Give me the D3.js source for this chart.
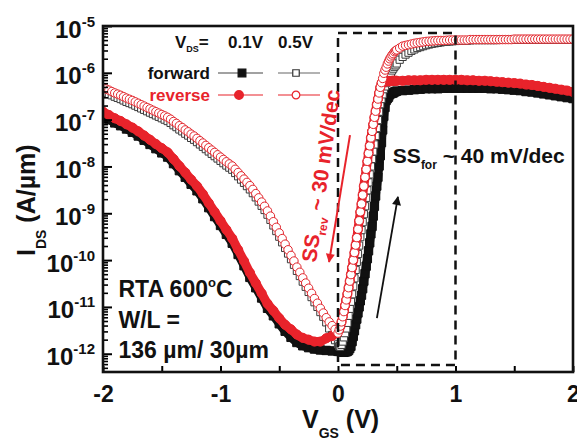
<!DOCTYPE html>
<html><head><meta charset="utf-8">
<script src="https://cdn.jsdelivr.net/npm/d3@7/dist/d3.min.js"></script>
<style>
body{margin:0;background:#fff}
text{font-family:"Liberation Sans",Arial,Helvetica,sans-serif;font-weight:bold}
</style>
</head><body>
<svg id="chart" width="577" height="441"></svg>
<script>
// ---- Data ----
// Gate-voltage points for the V_DS = 0.1 V curves (V)
const vgs = [-2,-1.95,-1.9,-1.85,-1.8,-1.75,-1.7,-1.65,-1.6,-1.55,-1.5,-1.45,-1.4,-1.35,-1.3,-1.25,-1.2,-1.15,-1.1,-1.05,-1,-0.95,-0.9,-0.85,-0.8,-0.75,-0.7,-0.65,-0.6,-0.55,-0.5,-0.45,-0.4,-0.35,-0.3,-0.25,-0.2,-0.15,-0.1,-0.05,0,
 0.01,0.02,0.03,0.04,0.05,0.06,0.07,0.08,0.09,0.1,0.11,0.12,0.13,0.14,0.15,0.16,0.17,0.18,0.19,0.2,0.21,0.22,0.23,0.24,0.25,0.26,0.27,0.28,0.29,0.3,0.31,0.32,0.33,0.34,0.35,0.36,0.37,0.38,0.39,0.4,0.41,0.42,0.43,0.44,0.45,0.46,0.47,0.48,0.49,0.5,
 0.55,0.6,0.65,0.7,0.75,0.8,0.85,0.9,0.95,1,1.05,1.1,1.15,1.2,1.25,1.3,1.35,1.4,1.45,1.5,1.55,1.6,1.65,1.7,1.75,1.8,1.85,1.9,1.95,2];

// log10(I_DS [A/um]) — forward sweep, V_DS = 0.1 V (filled squares)
const logIFwd01 = [-6.93,-7.00,-7.07,-7.13,-7.20,-7.27,-7.35,-7.44,-7.53,-7.62,-7.71,-7.80,-7.94,-8.09,-8.23,-8.38,-8.52,-8.69,-8.88,-9.07,-9.26,-9.45,-9.64,-9.88,-10.12,-10.37,-10.59,-10.81,-11.03,-11.19,-11.36,-11.52,-11.65,-11.76,-11.83,-11.87,-11.90,-11.92,-11.93,-11.94,-11.95,
 -11.95,-11.95,-11.96,-11.96,-11.97,-11.96,-11.96,-11.95,-11.93,-11.89,-11.84,-11.74,-11.63,-11.51,-11.38,-11.26,-11.13,-11.00,-10.87,-10.75,-10.61,-10.45,-10.29,-10.13,-9.97,-9.80,-9.63,-9.44,-9.28,-9.06,-8.85,-8.63,-8.42,-8.23,-7.99,-7.77,-7.49,-7.22,-6.93,-6.74,-6.59,-6.55,-6.52,-6.47,-6.44,-6.44,-6.43,-6.41,-6.40,-6.39,
 -6.38,-6.37,-6.36,-6.35,-6.34,-6.34,-6.34,-6.33,-6.33,-6.33,-6.33,-6.33,-6.33,-6.33,-6.33,-6.34,-6.34,-6.35,-6.36,-6.37,-6.38,-6.40,-6.41,-6.43,-6.45,-6.47,-6.49,-6.51,-6.53,-6.55];

// reverse sweep, V_DS = 0.1 V (filled circles)
const logIRev01 = [-6.83,-6.90,-6.97,-7.03,-7.10,-7.17,-7.25,-7.34,-7.43,-7.52,-7.61,-7.70,-7.84,-7.99,-8.13,-8.28,-8.42,-8.59,-8.78,-8.97,-9.16,-9.35,-9.54,-9.78,-10.02,-10.27,-10.49,-10.71,-10.93,-11.08,-11.24,-11.38,-11.48,-11.59,-11.66,-11.70,-11.74,-11.74,-11.67,-11.62,-11.50,
 -11.49,-11.41,-11.32,-11.21,-11.10,-10.97,-10.85,-10.72,-10.59,-10.45,-10.31,-10.16,-10.00,-9.84,-9.68,-9.52,-9.34,-9.16,-8.97,-8.80,-8.61,-8.42,-8.23,-8.06,-7.89,-7.72,-7.56,-7.39,-7.25,-7.10,-6.95,-6.82,-6.68,-6.56,-6.43,-6.31,-6.23,-6.20,-6.19,-6.19,-6.18,-6.18,-6.18,-6.18,-6.18,-6.17,-6.17,-6.17,-6.17,-6.17,
 -6.17,-6.16,-6.16,-6.16,-6.15,-6.15,-6.15,-6.15,-6.15,-6.15,-6.15,-6.16,-6.16,-6.17,-6.17,-6.18,-6.19,-6.20,-6.21,-6.22,-6.23,-6.25,-6.26,-6.28,-6.30,-6.32,-6.34,-6.36,-6.38,-6.41];

// Gate-voltage points for the V_DS = 0.5 V curves (V)
const vgsOpen = [
 -2,-1.975,-1.95,-1.925,-1.9,-1.875,-1.85,-1.825,-1.8,-1.775,
 -1.75,-1.725,-1.7,-1.675,-1.65,-1.625,-1.6,-1.575,-1.55,-1.525,
 -1.5,-1.475,-1.45,-1.425,-1.4,-1.375,-1.35,-1.325,-1.3,-1.275,
 -1.25,-1.225,-1.2,-1.175,-1.15,-1.125,-1.1,-1.075,-1.05,-1.025,
 -1,-0.975,-0.95,-0.925,-0.9,-0.875,-0.85,-0.825,-0.8,-0.775,
 -0.75,-0.725,-0.7,-0.675,-0.65,-0.625,-0.6,-0.575,-0.55,-0.525,
 -0.5,-0.475,-0.45,-0.425,-0.4,-0.375,-0.35,-0.325,-0.3,-0.275,
 -0.25,-0.225,-0.2,-0.175,-0.15,-0.125,-0.1,-0.075,-0.05,-0.025,
 0,
 0.01,0.02,0.03,0.04,0.05,0.06,0.07,0.08,0.09,0.1,
 0.11,0.12,0.13,0.14,0.15,0.16,0.17,0.18,0.19,0.2,
 0.21,0.22,0.23,0.24,0.25,0.26,0.27,0.28,0.29,0.3,
 0.31,0.32,0.33,0.34,0.35,0.36,0.37,0.38,0.39,0.4,
 0.41,0.42,0.43,0.44,0.45,0.46,0.47,0.48,0.49,0.5,
 0.525,0.55,0.575,0.6,0.625,0.65,0.675,0.7,0.725,0.75,
 0.775,0.8,0.825,0.85,0.875,0.9,0.925,0.95,0.975,1,
 1.025,1.05,1.075,1.1,1.125,1.15,1.175,1.2,1.225,1.25,
 1.275,1.3,1.325,1.35,1.375,1.4,1.425,1.45,1.475,1.5,
 1.525,1.55,1.575,1.6,1.625,1.65,1.675,1.7,1.725,1.75,
 1.775,1.8,1.825,1.85,1.875,1.9,1.925,1.95,1.975,2];

// forward sweep, V_DS = 0.5 V (open squares)
const logIFwd05 = [
 -6.40,-6.425,-6.45,-6.48,-6.51,-6.535,-6.56,-6.59,-6.62,-6.645,
 -6.67,-6.70,-6.73,-6.76,-6.79,-6.82,-6.85,-6.88,-6.91,-6.94,
 -6.97,-7.00,-7.03,-7.07,-7.12,-7.16,-7.21,-7.25,-7.30,-7.34,
 -7.39,-7.43,-7.48,-7.53,-7.58,-7.63,-7.68,-7.73,-7.78,-7.83,
 -7.88,-7.93,-7.98,-8.025,-8.07,-8.14,-8.21,-8.28,-8.35,-8.42,
 -8.49,-8.57,-8.66,-8.75,-8.84,-8.93,-9.03,-9.14,-9.26,-9.38,
 -9.50,-9.62,-9.74,-9.86,-9.98,-10.10,-10.23,-10.34,-10.46,-10.57,
 -10.68,-10.79,-10.90,-11.00,-11.11,-11.21,-11.33,-11.46,-11.60,-11.71,
 -11.80,
 -11.84,-11.85,-11.81,-11.74,-11.65,-11.56,-11.46,-11.34,-11.19,-11.04,
 -10.89,-10.73,-10.56,-10.39,-10.21,-10.04,-9.87,-9.69,-9.51,-9.36,
 -9.19,-9.02,-8.85,-8.67,-8.51,-8.34,-8.17,-8.00,-7.84,-7.68,
 -7.53,-7.35,-7.18,-7.01,-6.83,-6.67,-6.56,-6.46,-6.35,-6.29,
 -6.22,-6.14,-6.09,-6.05,-6.00,-5.95,-5.91,-5.87,-5.84,-5.80,
 -5.72,-5.66,-5.61,-5.57,-5.53,-5.50,-5.47,-5.45,-5.43,-5.41,
 -5.395,-5.38,-5.37,-5.36,-5.35,-5.34,-5.335,-5.33,-5.325,-5.32,
 -5.315,-5.31,-5.31,-5.31,-5.305,-5.30,-5.30,-5.30,-5.30,-5.30,
 -5.30,-5.30,-5.30,-5.30,-5.29,-5.29,-5.29,-5.29,-5.29,-5.29,
 -5.29,-5.29,-5.29,-5.29,-5.29,-5.29,-5.29,-5.29,-5.29,-5.29,
 -5.29,-5.29,-5.29,-5.29,-5.29,-5.29,-5.29,-5.29,-5.29,-5.29];

// reverse sweep, V_DS = 0.5 V (open circles)
const logIRev05 = [
 -6.32,-6.345,-6.37,-6.40,-6.43,-6.455,-6.48,-6.51,-6.54,-6.565,
 -6.59,-6.62,-6.65,-6.68,-6.71,-6.74,-6.77,-6.80,-6.83,-6.86,
 -6.89,-6.92,-6.95,-6.99,-7.04,-7.08,-7.13,-7.17,-7.22,-7.26,
 -7.31,-7.35,-7.40,-7.45,-7.50,-7.55,-7.60,-7.65,-7.70,-7.75,
 -7.80,-7.85,-7.90,-7.945,-7.99,-8.06,-8.13,-8.20,-8.27,-8.34,
 -8.41,-8.49,-8.58,-8.67,-8.76,-8.85,-8.95,-9.06,-9.18,-9.30,
 -9.42,-9.54,-9.66,-9.78,-9.90,-10.02,-10.15,-10.26,-10.38,-10.49,
 -10.60,-10.71,-10.82,-10.92,-11.03,-11.13,-11.23,-11.32,-11.40,-11.48,
 -11.56,
 -11.49,-11.41,-11.32,-11.21,-11.10,-10.97,-10.85,-10.72,-10.59,-10.45,
 -10.31,-10.16,-10.00,-9.84,-9.68,-9.52,-9.34,-9.16,-8.97,-8.80,
 -8.61,-8.42,-8.23,-8.06,-7.89,-7.72,-7.56,-7.39,-7.25,-7.10,
 -6.95,-6.82,-6.68,-6.56,-6.43,-6.31,-6.21,-6.12,-6.01,-5.94,
 -5.88,-5.81,-5.75,-5.70,-5.66,-5.62,-5.59,-5.55,-5.53,-5.51,
 -5.47,-5.43,-5.415,-5.40,-5.385,-5.37,-5.36,-5.35,-5.34,-5.33,
 -5.325,-5.32,-5.315,-5.31,-5.31,-5.31,-5.305,-5.30,-5.30,-5.30,
 -5.30,-5.30,-5.30,-5.30,-5.29,-5.29,-5.29,-5.29,-5.29,-5.29,
 -5.29,-5.29,-5.29,-5.29,-5.29,-5.29,-5.29,-5.29,-5.29,-5.28,
 -5.28,-5.28,-5.28,-5.28,-5.28,-5.28,-5.28,-5.28,-5.28,-5.28,
 -5.28,-5.28,-5.28,-5.28,-5.28,-5.28,-5.28,-5.28,-5.28,-5.28];

// Axis ticks
const xTickValues = [-2,-1.5,-1,-0.5,0,0.5,1,1.5,2];
const xTickLabels = ["-2","","-1","","0","","1","","2"];
const yDecadeExps = [-5,-6,-7,-8,-9,-10,-11,-12];

// Legend
const legendHeader = ["0.1V","0.5V"];
const legendRows = ["forward","reverse"];

// Dashed window (V range, log10 I range)
const boxV = [0, 1];
const boxLogI = [-12.24, -5.15];

// Annotation anchors (data coordinates: V, log10 I)
const ssRevAnchor = [-0.187, -10.06];
const ssForAnchor = [0.467, -7.93];
const rtaAnchors = [[-1.868,-10.79],[-1.868,-11.45],[-1.868,-12.09]];
const redArrow = [[0.102,-7.33],[-0.076,-10.04]];
const blackArrow = [[0.331,-11.24],[0.51,-8.65]];

// ---- Drawing ----
const W = 577, H = 441;
const M = {l:103, r:573, t:26, b:372};
const svg = d3.select("#chart");
svg.append("rect").attr("width",W).attr("height",H).attr("fill","#fff");

const x = d3.scaleLinear().domain([-2,2]).range([M.l,M.r]);
const y = d3.scaleLog().domain([Math.pow(10,-12.39),1e-5]).range([M.b,M.t]);
const X = v => x(v), Y = l => y(Math.pow(10,l));

const RED = "#e8232b";

svg.append("defs").append("clipPath").attr("id","clip")
  .append("rect").attr("x",M.l).attr("y",M.t).attr("width",M.r-M.l).attr("height",M.b-M.t);

const plot = svg.append("g").attr("clip-path","url(#clip)");

const series = [
  {v:vgs, vals:logIFwd01, sym:d3.symbolSquare, size:70, fill:"#111", stroke:"#111", band:"#111", bandW:8.5},
  {v:vgsOpen, vals:logIFwd05, sym:d3.symbolSquare, size:52, fill:"#fff", stroke:"#3a3a3a", band:null},
  {v:vgs, vals:logIRev01, sym:d3.symbolCircle, size:66, fill:RED, stroke:RED, band:RED, bandW:9},
  {v:vgsOpen, vals:logIRev05, sym:d3.symbolCircle, size:56, fill:"#fff", stroke:"#e3262d", band:null}
];

const line = d3.line().curve(d3.curveMonotoneX);
series.forEach(s=>{
  const pts = s.v.map((v,i)=>[X(v),Y(s.vals[i])]).filter(p=>isFinite(p[1]));
  if (s.band) {
    plot.append("path").attr("d",line(pts)).attr("fill","none")
      .attr("stroke",s.band).attr("stroke-width",s.bandW)
      .attr("stroke-linejoin","round").attr("stroke-linecap","round");
  }
  const sym = d3.symbol().type(s.sym).size(s.size);
  plot.append("g").selectAll("path").data(pts).join("path")
    .attr("transform",d=>`translate(${d[0]},${d[1]})`)
    .attr("d",sym)
    .attr("fill",s.fill)
    .attr("stroke",s.stroke).attr("stroke-width",1);
});

// dashed window
svg.append("rect")
  .attr("x",X(boxV[0])).attr("y",Y(boxLogI[1]))
  .attr("width",X(boxV[1])-X(boxV[0])).attr("height",Y(boxLogI[0])-Y(boxLogI[1]))
  .attr("fill","none").attr("stroke","#111").attr("stroke-width",2.5)
  .attr("stroke-dasharray","9,6");

// axes
const yMajor = yDecadeExps.map(e=>Math.pow(10,e));
const yMinor = y.ticks().filter(t => !yMajor.some(mj => Math.abs(Math.log10(t)-Math.log10(mj))<1e-6));

const gYm = svg.append("g").attr("transform",`translate(${M.l},0)`)
  .call(d3.axisLeft(y).tickValues(yMinor).tickSize(-5).tickFormat(""));
gYm.select(".domain").remove();
gYm.selectAll(".tick line").attr("stroke","#000").attr("stroke-width",1.6);

const gY = svg.append("g").attr("transform",`translate(${M.l},0)`)
  .call(d3.axisLeft(y).tickValues(yMajor).tickSize(-9).tickPadding(8).tickFormat(""));
gY.select(".domain").remove();
gY.selectAll(".tick line").attr("stroke","#000").attr("stroke-width",2);
gY.selectAll(".tick text").each(function(d){
  const t = d3.select(this);
  t.text(null).attr("dy","0.46em").attr("font-size",24).attr("fill","#111");
  t.append("tspan").text("10");
  t.append("tspan").attr("font-size",15).attr("dy",-11).text(String(Math.round(Math.log10(d))));
});

const gX = svg.append("g").attr("transform",`translate(0,${M.b})`)
  .call(d3.axisBottom(x).tickValues(xTickValues).tickSize(-6).tickPadding(14)
    .tickFormat((d,i)=>xTickLabels[i]));
gX.select(".domain").remove();
gX.selectAll(".tick line").attr("stroke","#000").attr("stroke-width",2);
gX.selectAll(".tick text").attr("font-size",23).attr("fill","#111");

// frame
svg.append("rect").attr("x",M.l).attr("y",M.t).attr("width",M.r-M.l).attr("height",M.b-M.t)
  .attr("fill","none").attr("stroke","#111").attr("stroke-width",2.6);

// axis titles
const yt = svg.append("text").attr("transform","translate(35,256) rotate(-90)")
  .attr("font-size",25).attr("fill","#111");
yt.append("tspan").text("I");
yt.append("tspan").attr("font-size",14).attr("dy",11).text("DS");
yt.append("tspan").attr("dy",-11).text(" (A/\u00B5m)");

const xt = svg.append("text").attr("x",302).attr("y",428).attr("font-size",25).attr("fill","#111");
xt.append("tspan").text("V");
xt.append("tspan").attr("font-size",14).attr("dy",10).text("GS");
xt.append("tspan").attr("dy",-10).text(" (V)");

// legend
const lg = svg.append("g").attr("fill","#111");
const vh = lg.append("text").attr("x",175).attr("y",48).attr("font-size",17);
vh.append("tspan").text("V");
vh.append("tspan").attr("font-size",9).attr("dy",4).text("DS");
vh.append("tspan").attr("dy",-4).text("=");
lg.append("text").attr("x",228).attr("y",48).attr("font-size",17).text(legendHeader[0]);
lg.append("text").attr("x",278).attr("y",48).attr("font-size",17).text(legendHeader[1]);
lg.append("text").attr("x",210).attr("y",79).attr("font-size",17).attr("text-anchor","end").text(legendRows[0]);
lg.append("text").attr("x",210).attr("y",101).attr("font-size",17).attr("text-anchor","end").attr("fill",RED).text(legendRows[1]);

const legendItems = [
  {x1:218,x2:263,mx:242,my:73,line:"#444",sym:d3.symbolSquare,size:60,fill:"#111",stroke:"#111"},
  {x1:278,x2:320,mx:296,my:73,line:"#666",sym:d3.symbolSquare,size:42,fill:"#fff",stroke:"#333"},
  {x1:218,x2:263,mx:239,my:95,line:RED,sym:d3.symbolCircle,size:60,fill:RED,stroke:RED},
  {x1:278,x2:320,mx:296,my:95,line:RED,sym:d3.symbolCircle,size:46,fill:"#fff",stroke:RED}
];
legendItems.forEach(it=>{
  lg.append("line").attr("x1",it.x1).attr("x2",it.x2).attr("y1",it.my).attr("y2",it.my)
    .attr("stroke",it.line).attr("stroke-width",1.2);
  lg.append("path").attr("transform",`translate(${it.mx},${it.my})`)
    .attr("d",d3.symbol().type(it.sym).size(it.size)()).attr("fill",it.fill)
    .attr("stroke",it.stroke).attr("stroke-width",1.2);
});

// annotations
const ssf = svg.append("text").attr("x",X(ssForAnchor[0])).attr("y",Y(ssForAnchor[1]))
  .attr("font-size",21).attr("fill","#111");
ssf.append("tspan").text("SS");
ssf.append("tspan").attr("font-size",12).attr("dy",6).text("for");
ssf.append("tspan").attr("dy",-6).text(" ~ 40 mV/dec");

const ssr = svg.append("text")
  .attr("transform",`translate(${X(ssRevAnchor[0])},${Y(ssRevAnchor[1])}) rotate(-82)`)
  .attr("font-size",21).attr("fill",RED);
ssr.append("tspan").text("SS");
ssr.append("tspan").attr("font-size",12).attr("dy",6).text("rev");
ssr.append("tspan").attr("dy",-6).text(" ~ 30 mV/dec");

const rta = svg.append("g").attr("fill","#111");
const t1 = rta.append("text").attr("x",X(rtaAnchors[0][0])).attr("y",Y(rtaAnchors[0][1])).attr("font-size",23);
t1.append("tspan").text("RTA 600");
t1.append("tspan").attr("font-size",13).attr("dy",-10).text("o");
t1.append("tspan").attr("dy",10).text("C");
rta.append("text").attr("x",X(rtaAnchors[1][0])).attr("y",Y(rtaAnchors[1][1])).attr("font-size",23).text("W/L =");
rta.append("text").attr("x",X(rtaAnchors[2][0])).attr("y",Y(rtaAnchors[2][1])).attr("font-size",23).text("136 \u00B5m/ 30\u00B5m");

// arrows
const defs = svg.select("defs");
[["arR",RED],["arK","#111"]].forEach(([id,c])=>{
  defs.append("marker").attr("id",id).attr("viewBox","0 0 10 10").attr("refX",9).attr("refY",5)
    .attr("markerWidth",14).attr("markerHeight",9).attr("markerUnits","userSpaceOnUse")
    .attr("orient","auto")
    .append("path").attr("d","M0,0 L10,5 L0,10 z").attr("fill",c);
});
svg.append("line").attr("x1",X(redArrow[0][0])).attr("y1",Y(redArrow[0][1]))
  .attr("x2",X(redArrow[1][0])).attr("y2",Y(redArrow[1][1]))
  .attr("stroke",RED).attr("stroke-width",2).attr("marker-end","url(#arR)");
svg.append("line").attr("x1",X(blackArrow[0][0])).attr("y1",Y(blackArrow[0][1]))
  .attr("x2",X(blackArrow[1][0])).attr("y2",Y(blackArrow[1][1]))
  .attr("stroke","#111").attr("stroke-width",1.8).attr("marker-end","url(#arK)");
</script>
</body></html>
